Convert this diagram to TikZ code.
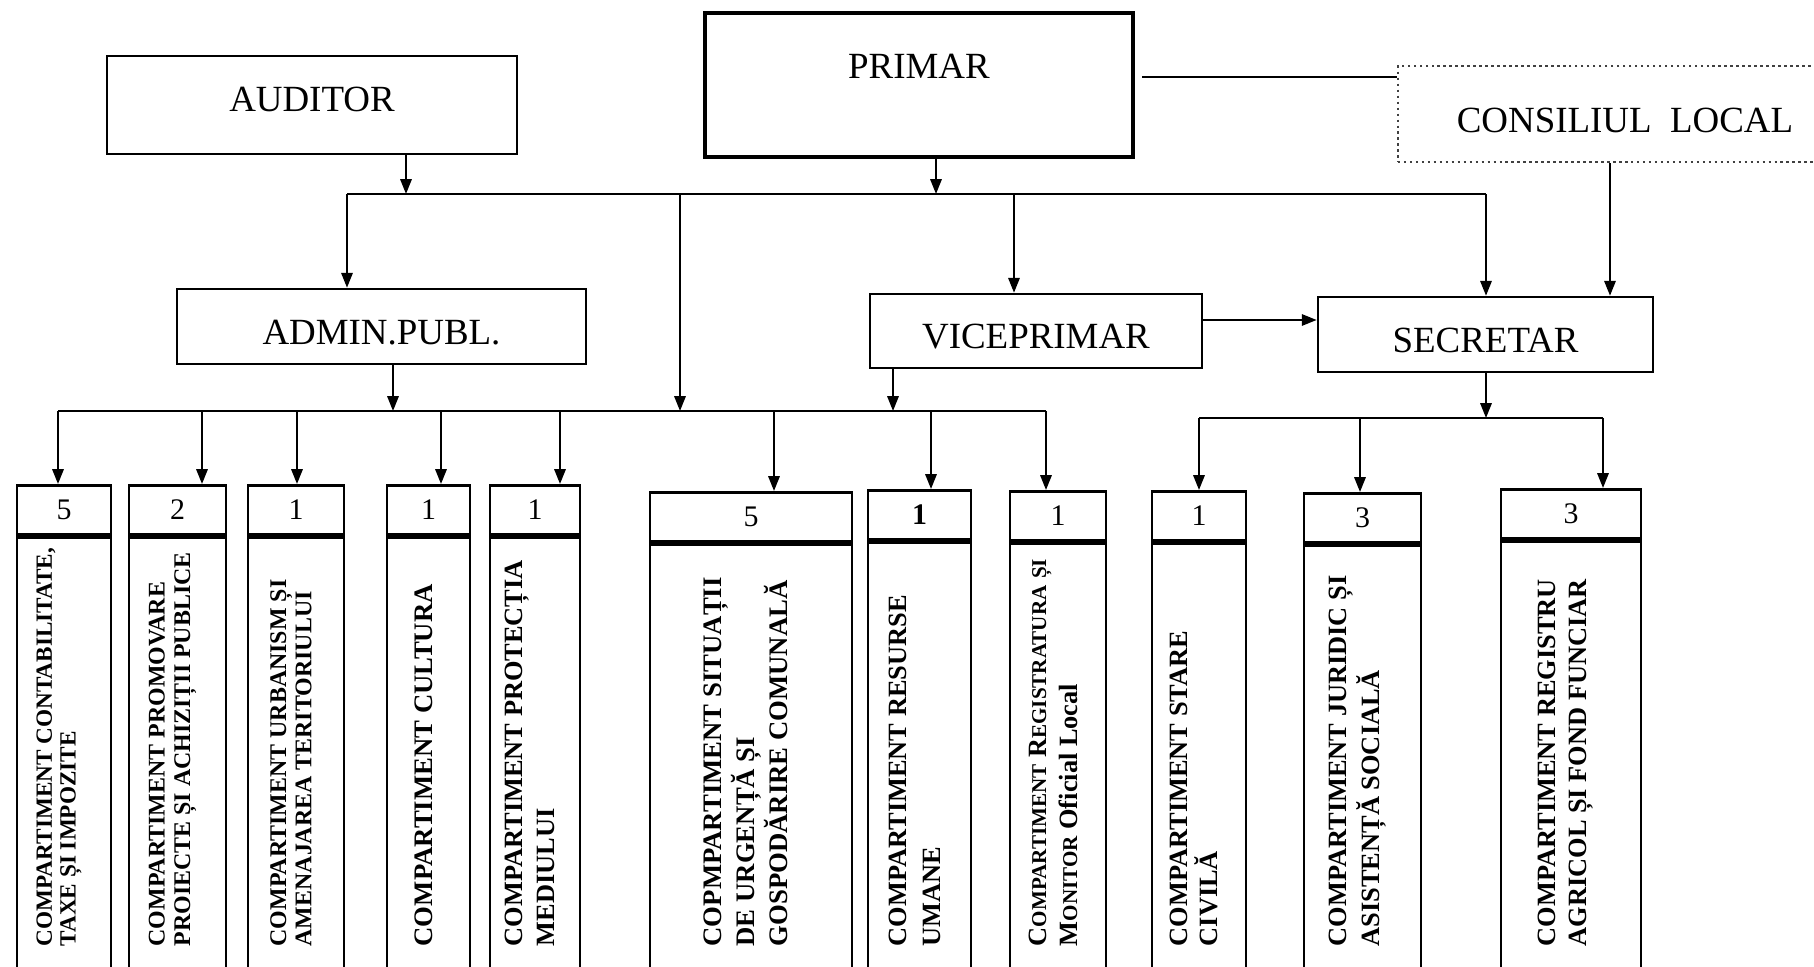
\documentclass[tikz,border=0pt]{standalone}
\usepackage{fontspec}
\setmainfont{Liberation Serif}
\usetikzlibrary{arrows.meta}

\newcommand{\capsmall}[1]{{\fontsize{6}{8.8}\selectfont #1}}
% #1 name, #2 left, #3 right, #4 top, #5 arrow x, #6 bus y, #7 posturi, #8 font size, #9 text
\newcommand{\Compart}[9]{
    \coordinate (#1a) at (#5,#6);
    \node[nrbox, minimum width={(#3-#2)*0.01cm}] (#1n) at ({(#2+#3)/2},#4) {#7};
    \node[cbox, minimum width={(#3-#2)*0.01cm}] (#1b) at (#1n.south) {};
    \node[clabel, font=\bfseries\fontsize#8\selectfont] (#1t) at ({(#2+#3)/2-5},947) {#9};
    \draw[arr] (#1a) -- (#1a |- #1n.north);
}

\begin{document}
\begin{tikzpicture}[x=0.01cm, y=-0.01cm,
    box/.style={draw, line width=0.7pt, inner sep=0pt, font=\fontsize{10.5}{12}\selectfont},
    nrbox/.style={draw, line width=0.8pt, anchor=north, minimum height=0.49cm, inner sep=0pt, font=\fontsize{8.5}{10}\selectfont},
    cbox/.style={draw, line width=0.8pt, anchor=north, minimum height=5cm, inner sep=0pt},
    clabel/.style={rotate=90, anchor=west, align=left, inner sep=0pt},
    arr/.style={-{Triangle[length=4.2pt, width=3.2pt]}, line width=0.6pt},
    link/.style={line width=0.6pt}]
    \useasboundingbox (0,0) rectangle (1814,967);
    \clip (0,0) rectangle (1814,967);

    \begin{scope} % Conducere
        \node[box, line width=1pt, minimum width=4.28cm, minimum height=1.44cm, text depth=0.38cm] (primar) at (919,85) {PRIMAR};
        \node[box, minimum width=4.10cm, minimum height=0.98cm, text depth=0.11cm] (auditor) at (312,105) {AUDITOR};
        \node[box, densely dotted, draw=black!75, minimum width=4.54cm, minimum height=0.96cm, text height=0.38cm] (consiliu) at (1625,114) {CONSILIUL\ \ LOCAL};
        \node[box, minimum width=4.09cm, minimum height=0.75cm, text height=0.36cm] (admin) at (381.5,326.5) {ADMIN.PUBL.};
        \node[box, minimum width=3.32cm, minimum height=0.74cm, text height=0.36cm] (vice) at (1036,331) {VICEPRIMAR};
        \node[box, minimum width=3.35cm, minimum height=0.75cm, text height=0.36cm] (secretar) at (1485.5,334.5) {SECRETAR};
    \end{scope}

    \begin{scope} % Linii de subordonare
        \coordinate (tbw) at (347,194);
        \coordinate (tbe) at (1486,194);
        \coordinate (audb) at (406,194);
        \coordinate (prib) at (936,194);
        \coordinate (midt) at (680,194);
        \coordinate (midb) at (680,411);
        \coordinate (viceu) at (1014,194);
        \coordinate (viceb) at (893,411);
        \coordinate (admb) at (393,411);
        \coordinate (secb) at (1486,418);
        \coordinate (pcl) at (1142,77);
        \coordinate (vs) at (0,320);
        \coordinate (cls) at (1610,0);

        \draw[link] (tbw) -- (tbe);
        \draw[arr] (auditor.south -| audb) -- (audb);
        \draw[arr] (primar.south -| prib) -- (prib);
        \draw[link] (pcl) -- (consiliu.west |- pcl);
        \draw[arr] (tbw) -- (admin.north -| tbw);
        \draw[arr] (midt) -- (midb);
        \draw[arr] (viceu) -- (vice.north -| viceu);
        \draw[arr] (tbe) -- (secretar.north -| tbe);
        \draw[arr] (consiliu.south -| cls) -- (secretar.north -| cls);
        \draw[arr] (vice.east |- vs) -- (secretar.west |- vs);
        \draw[arr] (admin.south -| admb) -- (admb);
        \draw[arr] (vice.south -| viceb) -- (viceb);
        \draw[arr] (secretar.south -| secb) -- (secb);
    \end{scope}

    % Compartimente
    \Compart{c1}{17}{111}{484}{58}{411}{5}{{6.6}{6.8}}{COMPARTIMENT CONTABILITATE,\\TAXE ȘI IMPOZITE}
    \Compart{c2}{129}{226}{484}{202}{411}{2}{{6.8}{7.2}}{COMPARTIMENT PROMOVARE\\PROIECTE ȘI ACHIZIȚII PUBLICE}
    \Compart{c3}{248}{344}{484}{297}{411}{1}{{6.8}{7.2}}{COMPARTIMENT URBANISM ȘI\\AMENAJAREA TERITORIULUI}
    \Compart{c4}{387}{470}{484}{441}{411}{1}{{7.6}{9}}{COMPARTIMENT CULTURA}
    \Compart{c5}{490}{580}{484}{560}{411}{1}{{7.5}{9.1}}{COMPARTIMENT PROTECȚIA\\MEDIULUI}
    \Compart{c6}{650}{852}{491}{774}{411}{5}{{7.6}{9.4}}{COPMPARTIMENT SITUAȚII\\DE URGENȚĂ ȘI\\GOSPODĂRIRE COMUNALĂ}
    \Compart{c7}{868}{971}{489}{931}{411}{\textbf{1}}{{7.5}{9.7}}{COMPARTIMENT RESURSE\\UMANE}
    \Compart{c8}{1010}{1106}{490}{1046}{411}{1}{{7.5}{8.8}}{C\capsmall{OMPARTIMENT} R\capsmall{EGISTRATURA} \capsmall{ȘI}\\M\capsmall{ONITOR} Oficial Local}
    \Compart{c9}{1152}{1246}{490}{1199}{418}{1}{{7.5}{8.3}}{COMPARTIMENT STARE\\CIVILĂ}
    \Compart{c10}{1304}{1421}{492}{1360}{418}{3}{{7.5}{8.3}}{COMPARTIMENT JURIDIC ȘI\\ASISTENȚĂ SOCIALĂ}
    \Compart{c11}{1501}{1641}{488}{1603}{418}{3}{{7.5}{8.8}}{COMPARTIMENT REGISTRU\\AGRICOL ȘI FOND FUNCIAR}

    \draw[link] (c1a) -- (c8a);
    \draw[link] (c9a) -- (c11a);
\end{tikzpicture}
\end{document}
